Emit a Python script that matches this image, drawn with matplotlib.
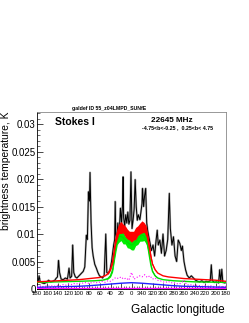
import numpy as np
import matplotlib
matplotlib.use("Agg")
import matplotlib.pyplot as plt

plt.rcParams['font.family'] = ['Liberation Sans', 'DejaVu Sans']

# observed (black), longitude runs 180 -> 0 -> -180 (= 180)
obs_l = [180, 178, 176, 174, 170, 166, 162, 158, 154, 150, 146, 144, 141, 139, 137, 134,
         130, 126, 122, 119, 117, 114, 112, 110, 107, 104, 100, 96, 92, 89, 86, 84,
         82, 80, 79, 77, 75, 73, 70, 67, 64, 61, 58, 55, 52, 49, 47, 44,
         41, 38, 36, 34, 32, 31, 30, 28, 26, 25, 23, 21, 19, 17, 16, 15,
         13, 11, 9, 7, 5, 3, 1, 0, -1, -3, -5, -7, -9, -11, -13, -16,
         -18, -20, -21, -23, -25, -27, -29, -31, -33, -35, -38, -41, -44, -47, -49, -51,
         -54, -57, -60, -63, -66, -69, -72, -74, -77, -80, -83, -86, -89, -92, -95, -97,
         -100, -103, -106, -110, -114, -118, -122, -126, -130, -134, -138, -142, -146, -150, -152, -154,
         -158, -162, -166, -168, -170, -172, -174, -178, -180]
obs_t = [0.0012, 0.0013, 0.0024, 0.0013, 0.0011, 0.0010, 0.0012, 0.0016, 0.0013, 0.0014, 0.0016, 0.0019, 0.0022, 0.0052, 0.0030, 0.0018,
         0.0017, 0.0020, 0.0018, 0.0038, 0.0020, 0.0023, 0.0080, 0.0030, 0.0022, 0.0020, 0.0024, 0.0028, 0.0032, 0.0040, 0.0098, 0.0090,
         0.0177, 0.0160, 0.0212, 0.0120, 0.0075, 0.0060, 0.0045, 0.0038, 0.0030, 0.0024, 0.0022, 0.0020, 0.0025, 0.0100, 0.0030, 0.0028,
         0.0035, 0.0050, 0.0065, 0.0080, 0.0090, 0.0159, 0.0100, 0.0090, 0.0120, 0.0105, 0.0110, 0.0147, 0.0120, 0.0155, 0.0204, 0.0130,
         0.0115, 0.0135, 0.0120, 0.0140, 0.0118, 0.0125, 0.0213, 0.0160, 0.0110, 0.0125, 0.0145, 0.0199, 0.0150, 0.0125, 0.0135, 0.0126,
         0.0140, 0.0155, 0.0183, 0.0150, 0.0170, 0.0183, 0.0120, 0.0105, 0.0095, 0.0085, 0.0070, 0.0080, 0.0060, 0.0090, 0.0107, 0.0080,
         0.0089, 0.0065, 0.0100, 0.0060, 0.0070, 0.0090, 0.0174, 0.0110, 0.0080, 0.0095, 0.0060, 0.0050, 0.0089, 0.0083, 0.0070, 0.0078,
         0.0050, 0.0035, 0.0025, 0.0020, 0.0024, 0.0020, 0.0016, 0.0014, 0.0013, 0.0015, 0.0012, 0.0014, 0.0013, 0.0015, 0.0044, 0.0015,
         0.0012, 0.0013, 0.0011, 0.0035, 0.0013, 0.0036, 0.0012, 0.0011, 0.0012]

# total model (red) and its spread
red_l = [180, 160, 140, 120, 100, 80, 60, 50, 45, 40, 36, 33, 30, 27, 24, 20, 16, 12, 8, 4, 0,
         -4, -8, -12, -16, -20, -24, -28, -31, -34, -37, -40, -45, -50, -60, -70, -80, -100, -120, -140, -160, -180]
red_t = [0.0013, 0.0014, 0.0015, 0.0016, 0.0017, 0.0019, 0.0021, 0.0024, 0.0028, 0.0036, 0.0050, 0.0070, 0.0090, 0.0102, 0.0110, 0.0112, 0.0110, 0.0105, 0.0100, 0.0097, 0.0095,
         0.0097, 0.0101, 0.0106, 0.0110, 0.0113, 0.0112, 0.0105, 0.0092, 0.0075, 0.0058, 0.0045, 0.0035, 0.0029, 0.0024, 0.0022, 0.0021, 0.0019, 0.0018, 0.0017, 0.0016, 0.0014]
red_sp = [0, 0, 0, 0, 0, 0, 0, 0, 0.0001, 0.0002, 0.0004, 0.0006, 0.0008, 0.0010, 0.0009, 0.0011, 0.0008, 0.0010, 0.0009, 0.0008, 0.0010,
          0.0008, 0.0011, 0.0009, 0.0010, 0.0011, 0.0009, 0.0010, 0.0008, 0.0006, 0.0004, 0.0002, 0.0001, 0, 0, 0, 0, 0, 0, 0, 0, 0]

# second component (green)
grn_l = [180, 140, 100, 70, 55, 45, 40, 36, 33, 30, 27, 24, 20, 16, 12, 8, 4, 0,
         -4, -8, -12, -16, -20, -24, -28, -31, -34, -37, -40, -45, -50, -60, -80, -120, -180]
grn_t = [0.0012, 0.0013, 0.0014, 0.0015, 0.0016, 0.0019, 0.0024, 0.0035, 0.0055, 0.0075, 0.0088, 0.0095, 0.0096, 0.0093, 0.0089, 0.0085, 0.0082, 0.0080,
         0.0082, 0.0086, 0.0091, 0.0095, 0.0098, 0.0097, 0.0090, 0.0078, 0.0060, 0.0043, 0.0032, 0.0024, 0.0020, 0.0017, 0.0015, 0.0013, 0.0012]
grn_sp = [0, 0, 0, 0, 0, 0.0001, 0.0002, 0.0004, 0.0006, 0.0009, 0.0007, 0.0010, 0.0008, 0.0011, 0.0007, 0.0010, 0.0008, 0.0009,
          0.0011, 0.0007, 0.0010, 0.0008, 0.0011, 0.0009, 0.0008, 0.0007, 0.0005, 0.0003, 0.0002, 0.0001, 0, 0, 0, 0, 0]

# blue smooth component
blu_l = [180, 140, 100, 80, 60, 40, 20, 0, -20, -40, -60, -80, -100, -140, -180]
blu_t = [0.0003, 0.0004, 0.0005, 0.0006, 0.00075, 0.0009, 0.00105, 0.00115, 0.00105, 0.0009, 0.00075, 0.0006, 0.0005, 0.0004, 0.0003]

# magenta dotted, every 5 deg from 180 to -180
mag_l = np.arange(180, -181, -5)
mag_t = [0.0005, 0.0006, 0.0004, 0.0005, 0.0006, 0.0005, 0.0006, 0.0005, 0.0007,
         0.0006, 0.0008, 0.0007, 0.0009, 0.0008, 0.0010, 0.0009, 0.0011,
         0.0010, 0.0012, 0.0011, 0.0010, 0.0012, 0.0013, 0.0011, 0.0013,
         0.0014, 0.0012, 0.0015, 0.0014, 0.0017, 0.0021, 0.0019, 0.0022,
         0.0018, 0.0020, 0.0016, 0.0030, 0.0018, 0.0021, 0.0024, 0.0022,
         0.0026, 0.0021, 0.0024, 0.0018, 0.0020, 0.0016, 0.0015, 0.0013,
         0.0012, 0.0014, 0.0011, 0.0012, 0.0010, 0.0009, 0.0011, 0.0016,
         0.0008, 0.0007, 0.0008, 0.0006, 0.0007, 0.0006, 0.0005, 0.0006,
         0.0005, 0.0006, 0.0005, 0.0004, 0.0005, 0.0005, 0.0004, 0.0005]

# flat magenta near zero
flat_l = [180, -180]
flat_t = [0.0001, 0.0001]

xticks = list(range(180, -181, -20))
xlabels = [str(v if v >= 0 else v + 360) for v in xticks]

W, H = 249, 323
fig = plt.figure(figsize=(W / 100, H / 100), dpi=100, facecolor="w")
ax = fig.add_axes([37 / W, 1 - 289 / H, 189 / W, 177 / H])

red_t = np.array(red_t); red_sp = np.array(red_sp)
grn_t = np.array(grn_t); grn_sp = np.array(grn_sp)

ax.plot(obs_l, obs_t, color='#b0b0b0', lw=1.5, zorder=2)
ax.plot(obs_l, obs_t, color='k', lw=0.7, zorder=3)
ax.fill_between(grn_l, grn_t - grn_sp, grn_t + grn_sp, color='#00ee00', lw=0, zorder=4)
ax.plot(grn_l, grn_t, color='#00dd00', lw=1.0, zorder=4)
ax.fill_between(red_l, red_t - red_sp, red_t + red_sp, color='#ff0000', lw=0, zorder=5)
ax.plot(red_l, red_t, color='#ff0000', lw=1.0, zorder=5)
ax.plot(mag_l, mag_t, color='#ff00ff', lw=0.8, ls=':', zorder=4)
ax.plot(blu_l, blu_t, color='#2020ff', lw=1.0, zorder=4)
ax.plot(flat_l, flat_t, color='#ff00ff', lw=1.0, zorder=4)

ax.set_xlim(180, -180)
ax.set_ylim(0, 0.0322)
ax.set_xticks(xticks)
ax.set_xticklabels(xlabels)
ax.set_xticks(range(180, -181, -5), minor=True)
ax.set_yticks([0, 0.005, 0.01, 0.015, 0.02, 0.025, 0.03])
ax.set_yticklabels(['0', '0.005', '0.01', '0.015', '0.02', '0.025', '0.03'])
ax.set_yticks(np.arange(0, 0.0321, 0.001), minor=True)
ax.tick_params(axis='both', which='major', direction='in', length=4, width=0.5)
ax.tick_params(axis='both', which='minor', direction='in', length=2, width=0.4)
ax.tick_params(axis='y', labelsize=7, pad=1)
ax.tick_params(axis='x', labelsize=4.3, pad=1.5)
for s in ['top', 'right']:
    ax.spines[s].set_color('#888888')
for s in ax.spines.values():
    s.set_linewidth(0.6)

ax.set_ylabel('brightness temperature, K', fontsize=7.4, loc='top')
ax.yaxis.set_label_coords(-0.135, 1.0)

fig.text(109 / W, 1 - 110 / H, 'galdef ID 55_z04LMPD_SUNfE', fontsize=3.7, fontweight='bold', ha='center')
fig.text(55 / W, 1 - 125 / H, 'Stokes I', fontsize=7.5, fontweight='bold')
fig.text(193 / W, 1 - 122 / H, '22645 MHz', fontsize=5.9, fontweight='bold', ha='right')
fig.text(213 / W, 1 - 129.5 / H, '-4.75<b<-0.25 ,  0.25<b< 4.75', fontsize=3.8, fontweight='bold', ha='right')
fig.text(225 / W, 1 - 313 / H, 'Galactic longitude', fontsize=8.5, ha='right')

plt.savefig("out.png", dpi=100)
plt.close()
